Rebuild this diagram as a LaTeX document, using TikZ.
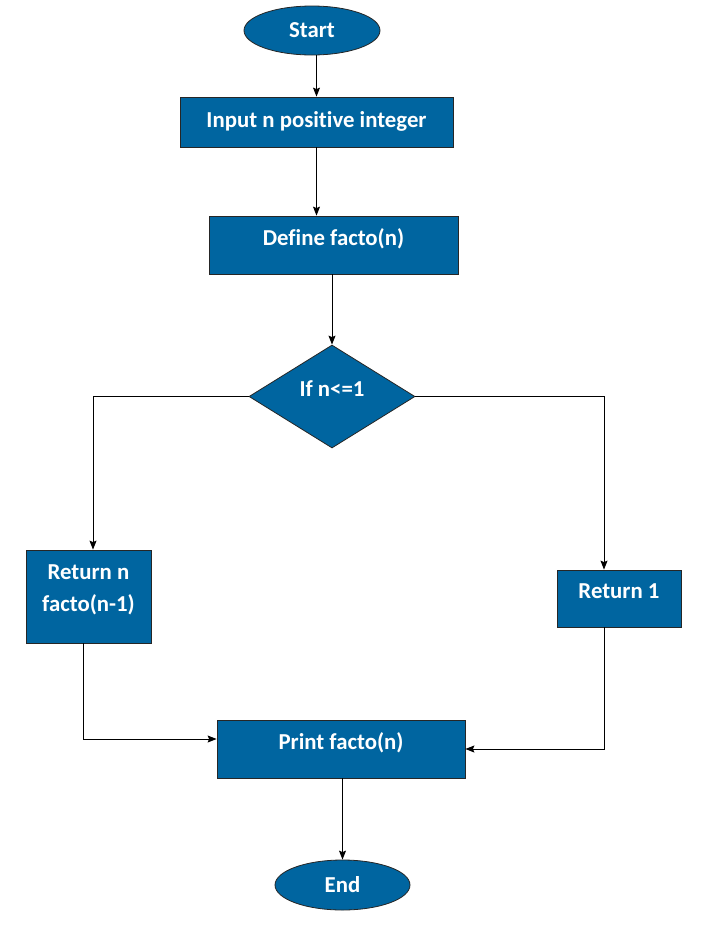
\documentclass[tikz,border=0pt]{standalone}
\usepackage{fontspec}
\setmainfont{Carlito}[Ligatures=NoCommon]
\usetikzlibrary{arrows.meta,shapes.geometric}
\definecolor{flowblue}{RGB}{0,101,160}

\begin{document}
\begin{tikzpicture}[-,>={Stealth[length=9pt,width=7pt,inset=1.5pt]},x=1pt,y=-1pt,line width=1pt]
  \tikzstyle{every node}=[fill=flowblue,draw=black!85,line width=0.8pt,text=white,
    font=\fontsize{22.8}{32}\selectfont\bfseries,inner sep=0pt]
  \tikzstyle{term}=[ellipse]
  \tikzstyle{block}=[rectangle,text height=15pt,text depth=15pt]
  \tikzstyle{decision}=[diamond,aspect=1.6,text height=15pt,text depth=15pt]

  \useasboundingbox (0,0) rectangle (710,932);

  \node[term,minimum width=136pt,minimum height=49pt] (start) at (312,30.5) {Start};
  \node[block,minimum width=273pt,minimum height=50pt,text depth=5pt] (input) at (316.5,122) {Input n positive integer};
  \node[block,minimum width=249pt,minimum height=58pt] (define) at (333.5,245) {Define facto(n)};
  \node[decision,minimum width=166pt,minimum height=103pt] (check) at (332,396.5) {If n<=1};
  \node[block,minimum width=125pt,minimum height=93pt,align=center,text height=30pt,text depth=1pt] (retn) at (88.5,596.5) {Return n\\facto(n-1)};
  \node[block,minimum width=124pt,minimum height=57pt] (ret1) at (619,598.5) {Return 1};
  \node[block,minimum width=248pt,minimum height=58pt] (print) at (341,749) {Print facto(n)};
  \node[term,minimum width=135pt,minimum height=50pt] (end) at (342.5,885) {End};

  \draw[->] (input.north |- start.south) -- (input.north);
  \draw[->] (input.south) -- (input.south |- define.north);
  \draw[->] (check.north |- define.south) -- (check.north);
  \draw[->] (check.west) -| ([xshift=4.5pt]retn.north);
  \draw[->] (check.east) -| ([xshift=-15pt]ret1.north);
  \draw[->] ([xshift=-5.5pt]retn.south) |- ([yshift=10pt]print.west);
  \draw[->] ([xshift=-15pt]ret1.south) |- (print.east);
  \draw[->] (end.north |- print.south) -- (end.north);

\end{tikzpicture}
\end{document}
